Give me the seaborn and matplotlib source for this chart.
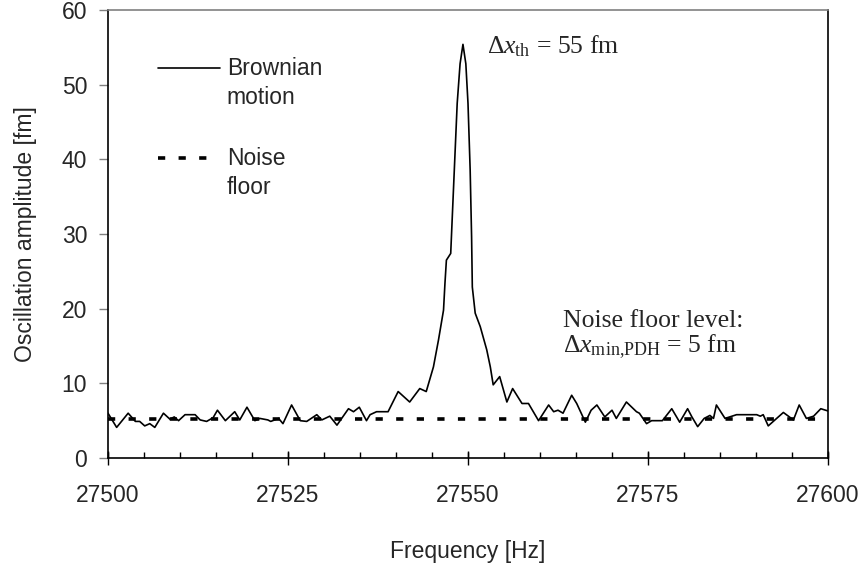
import matplotlib
matplotlib.use("Agg")
import matplotlib.pyplot as plt
from matplotlib.lines import Line2D
from matplotlib.ticker import MultipleLocator
import pandas as pd
import seaborn as sns

# Measured thermal (Brownian) motion spectrum of the resonator
freq_hz = [
    27500.0, 27501.2, 27502.8, 27503.8, 27504.4, 27505.1, 27505.8, 27506.5,
    27507.7, 27508.6, 27509.2, 27509.8, 27510.7, 27512.1, 27512.8, 27513.7,
    27514.6, 27515.2, 27516.3, 27517.6, 27518.3, 27519.3, 27520.4, 27521.1,
    27522.2, 27522.6, 27523.7, 27524.3, 27525.5, 27526.7, 27527.6, 27529.0,
    27529.7, 27530.8, 27531.8, 27533.4, 27534.1, 27534.9, 27535.9, 27536.4,
    27537.3, 27538.9, 27540.3, 27541.9, 27543.3, 27544.2, 27545.2, 27545.9,
    27546.6, 27546.8, 27547.0, 27547.6, 27547.8, 27548.1, 27548.5, 27548.9,
    27549.3, 27549.7, 27550.0, 27550.3, 27550.5, 27550.6, 27551.0, 27551.7,
    27552.6, 27553.1, 27553.5, 27554.4, 27555.4, 27556.2, 27557.5, 27558.4,
    27559.8, 27561.2, 27561.9, 27562.5, 27563.2, 27564.4, 27565.1, 27566.3,
    27567.1, 27567.9, 27569.0, 27570.0, 27570.6, 27572.0, 27573.4, 27573.8,
    27574.3, 27574.8, 27575.5, 27577.0, 27578.3, 27579.4, 27580.5, 27581.1,
    27581.9, 27582.8, 27583.6, 27584.1, 27584.5, 27585.7, 27587.3, 27590.1,
    27590.6, 27591.0, 27591.7, 27593.1, 27593.8, 27595.2, 27596.0, 27597.0,
    27598.0, 27599.0, 27600.0,
]
amplitude_fm = [
    6.0, 4.1, 6.0, 4.9, 4.9, 4.3, 4.6, 4.1,
    6.0, 5.2, 5.5, 5.0, 5.8, 5.8, 5.1, 4.9,
    5.4, 6.4, 5.0, 6.2, 5.1, 6.8, 5.0, 5.3,
    5.1, 4.9, 5.3, 4.6, 7.1, 5.0, 4.9, 5.8,
    5.1, 5.6, 4.4, 6.6, 6.2, 6.8, 5.0, 5.8,
    6.2, 6.2, 8.9, 7.5, 9.3, 8.9, 12.2, 15.8,
    19.8, 23.4, 26.5, 27.4, 31.9, 38.6, 47.5, 52.8,
    55.4, 52.8, 47.5, 38.6, 29.6, 22.9, 19.4, 17.6,
    14.5, 12.2, 9.8, 10.9, 7.5, 9.3, 7.3, 7.3,
    5.0, 7.1, 6.2, 6.4, 6.0, 8.4, 7.3, 4.8,
    6.4, 7.1, 5.5, 6.4, 5.3, 7.5, 6.2, 6.0,
    5.3, 4.6, 5.0, 5.0, 6.6, 4.8, 6.6, 5.5,
    4.2, 5.3, 5.7, 5.3, 7.1, 5.3, 5.8, 5.8,
    5.6, 5.8, 4.3, 5.5, 6.1, 5.1, 7.1, 5.3,
    5.6, 6.6, 6.3,
]
noise_floor_fm = 5.2
peak_fm = max(amplitude_fm)

x_ticks = [27500, 27525, 27550, 27575, 27600]
y_ticks = [0, 10, 20, 30, 40, 50, 60]

sns.set_style("ticks")
plt.rcParams["font.family"] = ["Liberation Sans", "DejaVu Sans"]
plt.rcParams["mathtext.fontset"] = "custom"
plt.rcParams["mathtext.rm"] = "Liberation Serif"
plt.rcParams["mathtext.it"] = "Liberation Serif:italic"
plt.rcParams["mathtext.bf"] = "Liberation Serif:bold"

SANS = 16.5
SERIF = 18.5

fig = plt.figure(figsize=(8.63, 5.70), dpi=100)
ax = fig.add_axes([0.12514, 0.19649, 0.83430, 0.78596])

df = pd.DataFrame({"freq": freq_hz, "amp": amplitude_fm})
sns.lineplot(data=df, x="freq", y="amp", ax=ax, color="black", lw=1.2,
             estimator=None, sort=True)

dash_style = (0, (2.0, 3.7))
ax.axhline(noise_floor_fm, color="black", lw=2.6, linestyle=dash_style,
           dash_capstyle="butt")

ax.set_xlim(x_ticks[0], x_ticks[-1])
ax.set_ylim(y_ticks[0], y_ticks[-1])
ax.set_xticks(x_ticks)
ax.set_yticks(y_ticks)
ax.xaxis.set_minor_locator(MultipleLocator(5))
ax.xaxis.remove_overlapping_locs = False
ax.set_xticklabels([str(t) for t in x_ticks])
ax.set_yticklabels([str(t) for t in y_ticks])

ax.tick_params(axis="x", which="major", direction="inout", length=10, width=1.0,
               color="black", labelsize=SANS, pad=14)
ax.tick_params(axis="x", which="minor", direction="in", length=4, width=1.0,
               color="black")
ax.tick_params(axis="y", which="major", direction="out", length=6.5, width=1.0,
               color="#808080", labelsize=SANS, pad=8.5)

for side in ["left", "bottom", "right"]:
    ax.spines[side].set_color("black")
    ax.spines[side].set_linewidth(1.2)
ax.spines["top"].set_color("#808080")
ax.spines["top"].set_linewidth(1.2)

ax.set_xlabel("Frequency [Hz]", fontsize=SANS)
ax.set_ylabel("Oscillation amplitude [fm]", fontsize=SANS)
ax.xaxis.set_label_coords(0.5, -0.182)
ax.yaxis.set_label_coords(-0.099, 0.5)

# Legend drawn as keys with two-line labels
ax.add_line(Line2D([0.0694, 0.1556], [0.8705, 0.8705], transform=ax.transAxes,
                   color="black", lw=1.2))
ax.add_line(Line2D([0.0694, 0.1542], [0.6696, 0.6696], transform=ax.transAxes,
                   color="black", lw=2.6, linestyle=dash_style,
                   dash_capstyle="butt"))
for label, y in [("Brownian", 0.8705), ("motion", 0.8036),
                 ("Noise", 0.6696), ("floor", 0.6049)]:
    ax.text(0.165, y, label, transform=ax.transAxes, fontsize=SANS,
            ha="left", va="center")

# Annotations
serif = ["Liberation Serif", "DejaVu Serif"]
ax.text(0.5264, 0.9040, r"$\Delta x_{\mathrm{th}}$" + f" = {round(peak_fm)} fm",
        transform=ax.transAxes, fontsize=SERIF, family=serif,
        ha="left", va="baseline")
ax.text(0.6319, 0.2924, "Noise floor level:", transform=ax.transAxes,
        fontsize=SERIF, family=serif, ha="left", va="baseline")
ax.text(0.6319, 0.2344,
        r"$\Delta x_{\mathrm{min{,}PDH}}$" + f" = {round(noise_floor_fm)} fm",
        transform=ax.transAxes, fontsize=SERIF, family=serif,
        ha="left", va="baseline")

fig.savefig("out.png", dpi=100)
